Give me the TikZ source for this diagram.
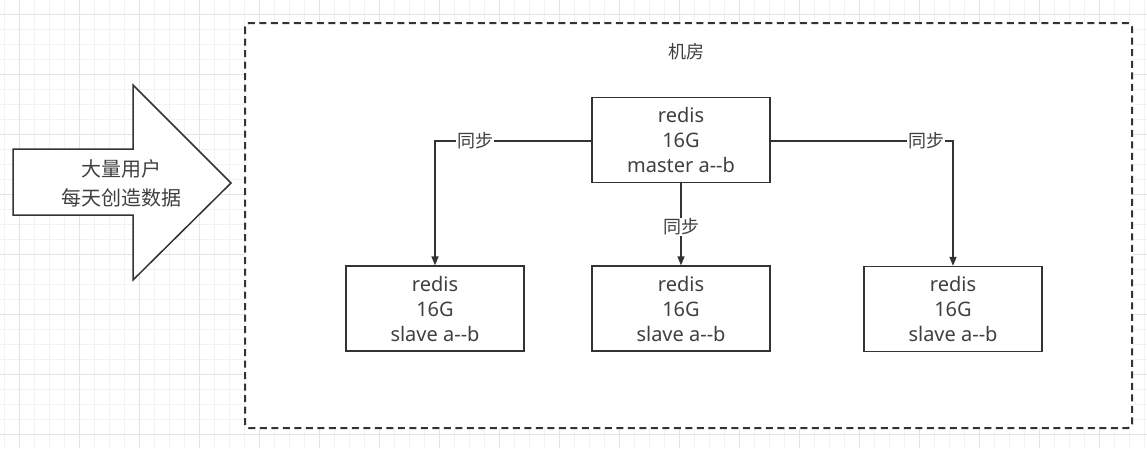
\documentclass[tikz,border=0pt]{standalone}
\usepackage{fontspec}
\setmainfont{Noto Sans}
\newfontfamily\cjk{Noto Sans CJK SC}
\usetikzlibrary{arrows.meta}
\definecolor{ink}{HTML}{333333}
\definecolor{txt}{HTML}{404040}
\definecolor{gridminor}{HTML}{F2F2F2}
\definecolor{gridmajor}{HTML}{E4E4E4}
\tikzset{
  rbox/.style={draw=ink, line width=1.3pt, fill=white, minimum width=178pt, minimum height=85pt,
    inner sep=0pt, text=txt, align=center, font=\fontsize{20}{25}\selectfont},
  link/.style={draw=ink, line width=1.3pt, -{Triangle[length=9pt,width=7pt]}},
  lbl/.style={fill=white, inner sep=1pt, text=txt, font=\cjk\fontsize{18}{20}\selectfont},
}
\begin{document}
\begin{tikzpicture}[x=1pt,y=-1pt]
\useasboundingbox (0,0) rectangle (1147,448);
\fill[white] (0,0) rectangle (1147,448);
% grid
\foreach \x in {4,19,...,1147} \draw[gridminor, line width=0.8pt] (\x,0) -- (\x,448);
\foreach \y in {14,29,...,448} \draw[gridminor, line width=0.8pt] (0,\y) -- (1147,\y);
\foreach \x in {19,79,...,1147} \draw[gridmajor, line width=1pt] (\x,0) -- (\x,448);
\foreach \y in {14,74,...,448} \draw[gridmajor, line width=1pt] (0,\y) -- (1147,\y);
% container
\draw[ink, line width=2pt, dash pattern=on 7pt off 4.5pt, rounded corners=4pt, fill=white]
  (245,23) rectangle (1132,428);
\node[text=txt, font=\cjk\fontsize{18}{20}\selectfont] (room) at (686,52) {机房};
% big arrow
\draw[ink, line width=1.5pt, fill=white, line join=miter]
  (13,149) -- (133,149) -- (133,85) -- (231,183) -- (133,280) -- (133,215) -- (13,215) -- cycle;
\node[text=txt, align=center, font=\cjk\fontsize{20}{29}\selectfont] (users) at (121,183) {大量用户\\每天创造数据};
% boxes
\node[rbox] (m) at (681,140) {redis\\16G\\master a-{}-b};
\node[rbox] (s1) at (435,308.5) {redis\\16G\\slave a-{}-b};
\node[rbox] (s2) at (681,308.5) {redis\\16G\\slave a-{}-b};
\node[rbox] (s3) at (953,309) {redis\\16G\\slave a-{}-b};
% connectors
\draw[link] (m.west |- 0,141) -| (s1.north);
\draw[link] (m.east |- 0,141) -| (s3.north);
\draw[link] (m.south) -- (s2.north);
\node[lbl] (l1) at (475,141) {同步};
\node[lbl] (l3) at (926,141) {同步};
\node[lbl] (l2) at (681,227) {同步};
\end{tikzpicture}
\end{document}
